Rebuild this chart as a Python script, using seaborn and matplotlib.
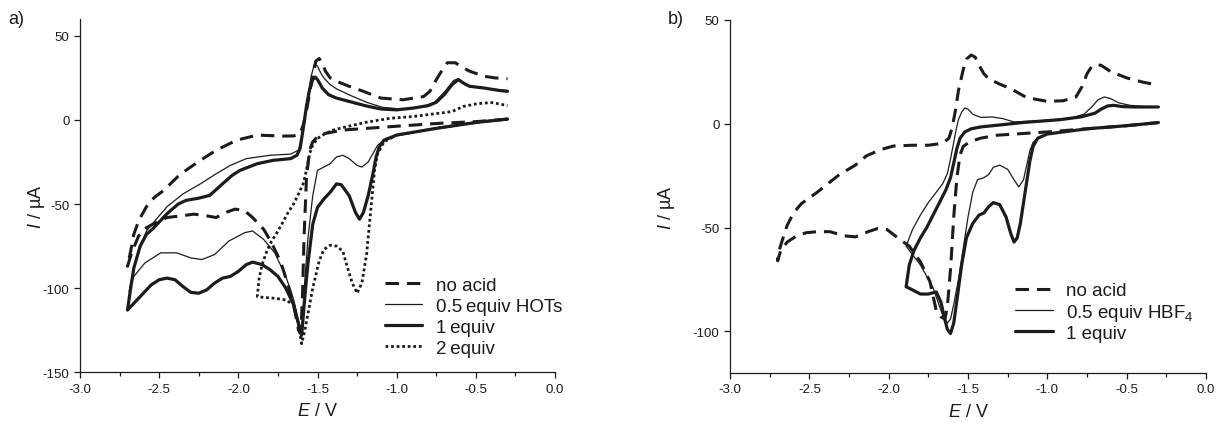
import matplotlib
matplotlib.use("Agg")
import matplotlib.pyplot as plt
import seaborn as sns
from matplotlib.ticker import MultipleLocator

sns.set_style("ticks")
plt.rcParams['font.family'] = ['Liberation Sans', 'DejaVu Sans']
plt.rcParams['mathtext.fontset'] = 'custom'
plt.rcParams['mathtext.rm'] = 'Liberation Sans'
plt.rcParams['mathtext.it'] = 'Liberation Sans:italic'
plt.rcParams['mathtext.bf'] = 'Liberation Sans:bold'

# ---------------- Panel a) data (E / V, I / uA) ----------------
a_noacid_E = [-0.30, -0.50, -0.73, -1.04, -1.34, -1.45, -1.50, -1.53, -1.55, -1.57,
              -1.585, -1.595, -1.605, -1.62, -1.64, -1.67, -1.73, -1.79, -1.84, -1.91,
              -1.96, -2.02, -2.08, -2.14, -2.20, -2.28, -2.36, -2.45, -2.52, -2.58,
              -2.63, -2.67, -2.70,
              -2.68, -2.66, -2.63, -2.58, -2.53, -2.47, -2.37, -2.24, -2.14, -2.01,
              -1.88, -1.72, -1.65, -1.61, -1.59, -1.57, -1.55, -1.53, -1.51, -1.49,
              -1.47, -1.45, -1.42, -1.38, -1.30, -1.21, -1.10, -0.96, -0.83, -0.79,
              -0.75, -0.71, -0.68, -0.63, -0.58, -0.54, -0.45, -0.38, -0.30]
a_noacid_I = [0.5, -1, -2, -4, -6, -8, -10, -13, -18, -35,
              -70, -105, -127, -125, -115, -103, -85, -73, -65, -58,
              -54, -53, -55, -58, -57, -56, -57, -58, -61, -64,
              -69, -78, -87,
              -78, -68, -60, -51.5, -46, -41.8, -32.5, -24, -18, -12,
              -9, -9.6, -9.5, -8, -3, 5, 16, 27, 35, 36.5,
              34, 29, 25, 23, 20, 17, 13, 12, 13.9, 17,
              23.9, 30, 34, 34, 31, 29, 26, 25, 24.5]

a_half_E = [-0.30, -0.50, -0.75, -1.00, -1.08, -1.12, -1.15, -1.18, -1.22, -1.25,
            -1.30, -1.34, -1.38, -1.42, -1.46, -1.50, -1.53, -1.56, -1.58, -1.60,
            -1.62, -1.65, -1.70, -1.77, -1.84, -1.91, -1.96, -2.06, -2.15, -2.23,
            -2.30, -2.39, -2.49, -2.59, -2.66, -2.69,
            -2.66, -2.62, -2.58, -2.56, -2.50, -2.45, -2.35, -2.24, -2.14, -2.05,
            -1.95, -1.80, -1.67, -1.62, -1.60, -1.58, -1.56, -1.54, -1.52, -1.50,
            -1.48, -1.46, -1.42, -1.38, -1.29, -1.19, -1.09, -0.97, -0.85, -0.76,
            -0.69, -0.64, -0.61, -0.57, -0.50, -0.42, -0.30]
a_half_I = [0.5, -1.5, -5, -9, -12, -15, -20, -25, -28, -27,
            -23, -21, -22, -26, -28, -30, -45, -70, -95, -127,
            -120, -107, -93, -79, -71, -66, -67, -72, -80, -83,
            -82, -79, -79, -85, -93, -102,
            -88, -75, -66, -63.7, -57, -51.5, -44, -38, -32, -27,
            -23, -21, -20.3, -18, -10, 2.6, 15, 26, 33, 32,
            28, 25, 21, 18.5, 14.5, 10.5, 7.5, 6.5, 7.5, 10.5,
            17.5, 23.5, 24.5, 21, 19.5, 18.5, 17.5]

a_one_E = [-0.30, -0.50, -0.75, -1.00, -1.08, -1.11, -1.13, -1.15, -1.18, -1.21,
           -1.235, -1.26, -1.30, -1.35, -1.38, -1.42, -1.46, -1.50, -1.53, -1.56,
           -1.58, -1.60, -1.62, -1.65, -1.70, -1.75, -1.80, -1.85, -1.91, -1.95,
           -2.00, -2.05, -2.10, -2.15, -2.20, -2.25, -2.30, -2.35, -2.40, -2.45,
           -2.50, -2.55, -2.60, -2.65, -2.70,
           -2.68, -2.66, -2.62, -2.58, -2.54, -2.45, -2.38, -2.33, -2.25, -2.18,
           -2.10, -2.04, -1.99, -1.88, -1.78, -1.67, -1.63, -1.61, -1.59, -1.57,
           -1.55, -1.53, -1.515, -1.50, -1.47, -1.43, -1.38, -1.30, -1.20, -1.10,
           -1.00, -0.90, -0.80, -0.75, -0.70, -0.65, -0.61, -0.58, -0.54, -0.45,
           -0.35, -0.30]
a_one_I = [0.5, -1.5, -5, -9, -12, -16, -22, -32, -45, -55,
           -59, -55, -45, -38.5, -38, -43, -47, -52, -62, -85,
           -105, -128, -121, -110, -100, -93, -89, -86, -84.5, -86,
           -90, -93, -94, -97, -101, -103, -102.5, -99, -95, -94,
           -95, -98, -103, -108, -113,
           -100, -88, -75, -68, -64.7, -55.7, -50, -47.8, -46.5, -44.8,
           -38, -33, -30, -26, -24, -23, -21, -17, -5, 8,
           18, 24, 25.5, 24, 19, 15, 13, 11, 8.5, 6.5,
           6, 7, 8.5, 10.5, 15, 21, 24, 22, 20, 19,
           17.5, 17]

a_two_E = [-0.30, -0.50, -0.75, -1.00, -1.08, -1.12, -1.14, -1.16, -1.19, -1.22,
           -1.25, -1.28, -1.31, -1.34, -1.38, -1.42, -1.46, -1.49, -1.53, -1.56,
           -1.58, -1.60, -1.62, -1.65, -1.70, -1.77, -1.84, -1.88,
           -1.87, -1.85, -1.82, -1.79, -1.76, -1.72, -1.69, -1.65, -1.62, -1.59,
           -1.57, -1.55, -1.53, -1.50, -1.45, -1.40, -1.36, -1.20, -1.04, -0.90,
           -0.73, -0.65, -0.58, -0.50, -0.45, -0.40, -0.35, -0.30]
a_two_I = [0.5, -1.5, -5, -9, -13, -20, -30, -50, -80, -97,
           -103, -97, -88, -78, -75, -74.5, -77, -84, -100, -115,
           -125, -133, -122, -110, -107, -106, -105.5, -105,
           -95, -86, -78, -72, -67.7, -61, -55.7, -49.8, -44, -37.8,
           -30, -20, -15, -11, -8, -6, -5, -1.5, 1, 2,
           4, 5, 8, 9.5, 10, 10.3, 9.5, 8.5]

# ---------------- Panel b) data ----------------
b_noacid_E = [-0.30, -0.50, -0.75, -1.00, -1.20, -1.32, -1.42, -1.49, -1.53, -1.55,
              -1.57, -1.59, -1.61, -1.63, -1.645, -1.67, -1.70, -1.74, -1.80, -1.87,
              -1.95, -2.01, -2.07, -2.13, -2.21, -2.28, -2.37, -2.45, -2.52, -2.58,
              -2.64, -2.68, -2.70,
              -2.69, -2.67, -2.64, -2.60, -2.55, -2.45, -2.31, -2.21, -2.14, -2.05,
              -1.97, -1.85, -1.75, -1.66, -1.62, -1.60, -1.58, -1.56, -1.53, -1.51,
              -1.48, -1.455, -1.43, -1.40, -1.37, -1.30, -1.23, -1.13, -1.00, -0.90,
              -0.82, -0.78, -0.75, -0.72, -0.69, -0.66, -0.60, -0.50, -0.40, -0.30]
b_noacid_I = [0.5, -1, -2.5, -4, -5, -5.6, -7, -8.8, -11, -15,
              -26, -45, -70, -88, -94, -93, -90, -76, -66.5, -59,
              -54.5, -51, -50.5, -52, -54.5, -54, -52, -52, -52.5, -54,
              -57, -61, -66,
              -61, -56, -49, -43, -38.5, -33, -24.5, -20, -15.5, -12.5,
              -10.8, -10.4, -10.4, -9.5, -7, -2, 6, 16, 26, 31,
              33, 32, 28, 24, 21.6, 19, 16.8, 12.5, 10.7, 11,
              12.8, 18, 24, 27.5, 28.5, 28, 25, 22, 20, 18.5]

b_half_E = [-0.30, -0.50, -0.75, -1.00, -1.06, -1.09, -1.11, -1.13, -1.15, -1.18,
            -1.21, -1.25, -1.30, -1.34, -1.37, -1.40, -1.44, -1.47, -1.50, -1.53,
            -1.56, -1.59, -1.61, -1.63, -1.65, -1.67, -1.72, -1.80, -1.89,
            -1.87, -1.85, -1.80, -1.75, -1.70, -1.66, -1.63, -1.61, -1.59, -1.575,
            -1.56, -1.54, -1.52, -1.50, -1.47, -1.42, -1.35, -1.28, -1.21, -1.10,
            -1.00, -0.85, -0.77, -0.72, -0.68, -0.64, -0.60, -0.55, -0.48, -0.40,
            -0.30]
b_half_I = [0.5, -1, -2.5, -5, -7, -9, -13, -20, -27, -30.5,
            -27, -22, -20, -21, -24.5, -26, -27, -33, -45, -60,
            -75, -87, -94, -96, -94, -90, -79, -68, -59,
            -55, -51, -44, -38, -33, -29, -24, -17, -9, -3,
            2, 5.5, 7.5, 7, 4.5, 3, 3.2, 2.4, 0.8, 1.2,
            1.6, 2.7, 4.5, 8, 11.5, 12.8, 12, 10, 8.8, 8.3,
            8]

b_one_E = [-0.30, -0.50, -0.75, -1.00, -1.06, -1.09, -1.11, -1.13, -1.15, -1.17,
           -1.19, -1.21, -1.23, -1.26, -1.30, -1.34, -1.37, -1.40, -1.43, -1.47,
           -1.51, -1.54, -1.57, -1.59, -1.61, -1.63, -1.65, -1.67, -1.70, -1.75,
           -1.80, -1.85, -1.89,
           -1.87, -1.84, -1.80, -1.76, -1.72, -1.68, -1.64, -1.61, -1.59, -1.57,
           -1.55, -1.52, -1.48, -1.42, -1.28, -1.16, -0.92, -0.79, -0.70, -0.66,
           -0.62, -0.58, -0.53, -0.45, -0.30]
b_one_I = [0.5, -1, -2.5, -5, -7, -11, -18, -28, -38, -48,
           -55, -57, -53, -45, -39, -38, -40, -43, -44, -48,
           -55, -68, -85, -96, -101, -99, -93, -86, -81, -82,
           -82, -80, -78.5,
           -68, -61, -55, -50, -44, -38, -32, -26, -19, -12,
           -7, -4, -2.5, -1.6, -0.5, 0.5, 1.9, 3.2, 5, 7,
           8.5, 8.8, 8.2, 8, 8]

labels_a = ["no acid", "0.5\u2009equiv HOTs", "1\u2009equiv", "2\u2009equiv"]
labels_b = ["no acid", "0.5 equiv HBF$_4$", "1 equiv"]

INK = "#1c1c1c"
W, H = 1216, 427
fig = plt.figure(figsize=(W / 100, H / 100), dpi=100)
axA = fig.add_axes([80 / W, 1 - 373.3 / H, 475 / W, 353.3 / H])
axB = fig.add_axes([730 / W, 1 - 374 / H, 476 / W, 353.3 / H])

dash_style = dict(lw=2.2, linestyle=(0, (4.4, 2.6)))
thin_style = dict(lw=0.9, linestyle="-")
thick_style = dict(lw=2.3, linestyle="-")
dot_style = dict(lw=2.0, linestyle=(0, (1.0, 1.0)))

def draw(ax, E, I, label, style):
    sns.lineplot(x=E, y=I, sort=False, estimator=None, ax=ax, color=INK,
                 label=label, solid_joinstyle="round", **style)

draw(axA, a_noacid_E, a_noacid_I, labels_a[0], dash_style)
draw(axA, a_half_E, a_half_I, labels_a[1], thin_style)
draw(axA, a_one_E, a_one_I, labels_a[2], thick_style)
draw(axA, a_two_E, a_two_I, labels_a[3], dot_style)

draw(axB, b_noacid_E, b_noacid_I, labels_b[0], dash_style)
draw(axB, b_half_E, b_half_I, labels_b[1], thin_style)
draw(axB, b_one_E, b_one_I, labels_b[2], thick_style)

for ax, ylim, yt in [(axA, (-150, 60), [-150, -100, -50, 0, 50]),
                     (axB, (-120, 50), [-100, -50, 0, 50])]:
    ax.set_xlim(-3.0, 0.0)
    ax.set_ylim(*ylim)
    ax.set_xticks([-3.0, -2.5, -2.0, -1.5, -1.0, -0.5, 0.0])
    ax.set_xticklabels(["-3.0", "-2.5", "-2.0", "-1.5", "-1.0", "-0.5", "0.0"])
    ax.xaxis.set_minor_locator(MultipleLocator(0.25))
    ax.set_yticks(yt)
    ax.set_yticklabels([str(v) for v in yt])
    for s in ["top", "right"]:
        ax.spines[s].set_visible(False)
    for s in ["left", "bottom"]:
        ax.spines[s].set_linewidth(0.9)
        ax.spines[s].set_color(INK)
    ax.tick_params(which="major", direction="out", length=4.5, width=0.9,
                   labelsize=9.5, colors=INK, pad=3)
    ax.tick_params(which="minor", direction="out", length=3, width=0.9, colors=INK)
    ax.set_xlabel("$E$ / V", fontsize=13, color=INK)
    ax.set_ylabel("$I$ / µA", fontsize=13, color=INK)

axA.xaxis.set_label_coords(0.50, -0.084)
axB.xaxis.set_label_coords(0.50, -0.084)
axA.yaxis.set_label_coords(-0.070, 0.47)
axB.yaxis.set_label_coords(-0.112, 0.47)

leg_kw = dict(loc="upper left", frameon=False, fontsize=13.5, handlelength=2.0,
              handletextpad=0.7, borderpad=0, borderaxespad=0)
legA = axA.legend(bbox_to_anchor=(0.642, 0.270), labelspacing=0.2, **leg_kw)
legB = axB.legend(bbox_to_anchor=(0.599, 0.257), labelspacing=0.12, **leg_kw)
for leg in (legA, legB):
    for t in leg.get_texts():
        t.set_color(INK)

fig.text(16 / W, 1 - 20 / H, "a)", fontsize=13, ha="center", va="center", color=INK)
fig.text(676 / W, 1 - 20 / H, "b)", fontsize=13, ha="center", va="center", color=INK)

fig.savefig("out.png", dpi=100)
